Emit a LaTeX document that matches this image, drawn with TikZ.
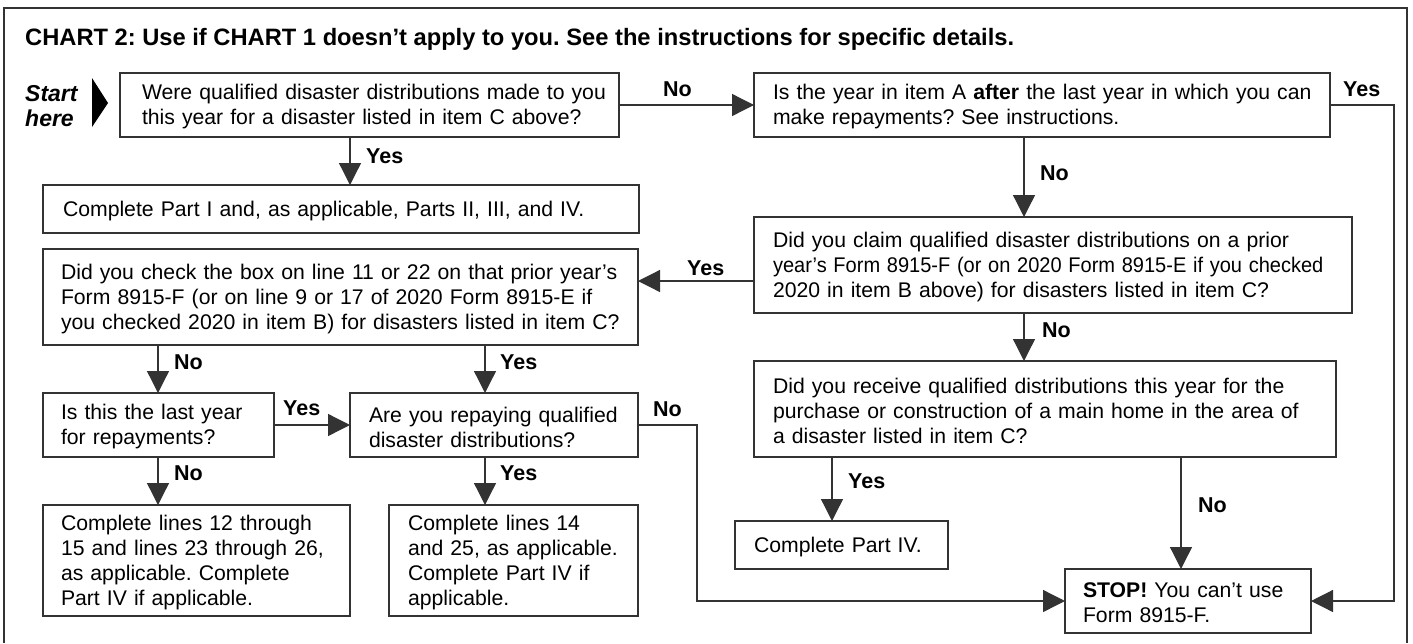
\documentclass[tikz,border=0pt]{standalone}
\usepackage{fontspec}
\usepackage{graphicx}
\setmainfont{Liberation Sans}
\usetikzlibrary{arrows.meta}
\definecolor{linec}{HTML}{333333}
\frenchspacing
\newcommand\bodyfont{\fontsize{21.2}{25}\selectfont}
\newcommand\lblfont{\fontsize{21.5}{25}\selectfont\bfseries}
\newcommand\titlefont{\fontsize{23.7}{27}\selectfont\bfseries}
\newcommand\startfont{\fontsize{23}{25}\selectfont\bfseries\itshape}
\newcommand\boxend{\endgraf\kern-4pt}
\begin{document}
\begin{tikzpicture}[x=1pt,y=-1pt,
  box/.style={draw=linec, line width=1.3pt, outer sep=0pt, anchor=north west,
    align=left, inner xsep=6pt, inner ysep=0pt, font=\bodyfont,
    execute at begin node={\frenchspacing\leftskip=13pt\rightskip=-30pt plus 1fil},
    execute at end node={\boxend}},
  bx/.style 2 args={box, text width={#1-12}, minimum height={#2}},
  ln/.style={draw=linec, line width=1.3pt},
  arr/.style={draw=linec, line width=1.3pt, -{Triangle[length=22pt,width=22pt]}},
  lbl/.style={anchor=west, inner sep=0pt, font=\lblfont}]
\useasboundingbox (0,0) rectangle (1413,643);
% frame
\draw[ln] (4,643) -- (4,8) -- (1407,8) -- (1407,643);
% title
\node[anchor=base west, inner sep=0pt, font=\titlefont] (title) at (25,45)
  {CHART 2: Use if CHART 1 doesn’t apply to you. See the instructions for specific details.};
% start
\node[anchor=west, align=left, inner sep=0pt, font=\startfont] (start) at (25,106) {Start\\here};
\fill[black] (92,78) -- (108,103) -- (92,127) -- cycle;
% boxes
\node[bx={499}{64}, execute at begin node={\leftskip=16pt}] (q1) at (120,73)
  {Were qualified disaster distributions made to you\\this year for a disaster listed in item C above?};
\node[bx={596}{48}, execute at begin node={\leftskip=14pt}] (p1) at (43,185)
  {Complete Part I and, as applicable, Parts II, III, and IV.};
\node[bx={576}{64}] (q2) at (754,73)
  {Is the year in item A \textbf{after} the last year in which you can\\make repayments? See instructions.};
\node[bx={598}{96}] (q3) at (754,217)
  {Did you claim qualified disaster distributions on a prior\\\scalebox{0.945}[1]{year’s Form 8915-F (or on 2020 Form 8915-E if you checked}\\2020 in item B above) for disasters listed in item C?};
\node[bx={595}{96}, execute at begin node={\leftskip=12pt}] (q4) at (43,249)
  {Did you check the box on line 11 or 22 on that prior year’s\\Form 8915-F (or on line 9 or 17 of 2020 Form 8915-E if\\you checked 2020 in item B) for disasters listed in item C?};
\node[bx={231}{64}, execute at begin node={\leftskip=12pt}] (q5) at (43,393)
  {Is this the last year\\for repayments?};
\node[bx={288}{64}] (q6) at (350,393)
  {Are you repaying qualified\\disaster distributions?};
\node[bx={307}{111}, execute at begin node={\leftskip=12pt}] (r1) at (43,505)
  {Complete lines 12 through\\15 and lines 23 through 26,\\as applicable. Complete\\Part IV if applicable.};
\node[bx={249}{111}] (r2) at (389,505)
  {Complete lines 14\\and 25, as applicable.\\Complete Part IV if\\applicable.};
\node[bx={582}{96}] (q7) at (754,361)
  {Did you receive qualified distributions this year for the\\purchase or construction of a main home in the area of\\a disaster listed in item C?};
\node[bx={213}{48}] (r3) at (735,521)
  {Complete Part IV.};
\node[bx={246}{64}, execute at begin node={\leftskip=12pt}] (stop) at (1065,569)
  {\textbf{STOP!} You can’t use\\Form 8915-F.};
% helper coordinates
\coordinate (x1) at (350,0);
\coordinate (x2) at (1024,0);
\coordinate (x4) at (158,0);
\coordinate (x5) at (485,0);
\coordinate (x6) at (832,0);
\coordinate (x7) at (1181,0);
\coordinate (cR) at (1394,300);
\coordinate (cN) at (697,500);
\coordinate (yq) at (0,281);
% connectors
\draw[arr] (q1.south -| x1) -- (p1.north -| x1);
\draw[arr] (q1.east) -- (q2.west);
\draw[arr] (q2.south -| x2) -- (q3.north -| x2);
\draw[arr] (q2.east) -| (cR) |- (stop.east);
\draw[arr] (q3.west |- yq) -- (q4.east |- yq);
\draw[arr] (q3.south -| x2) -- (q7.north -| x2);
\draw[arr] (q4.south -| x4) -- (q5.north -| x4);
\draw[arr] (q4.south -| x5) -- (q6.north -| x5);
\draw[arr] (q5.east) -- (q6.west);
\draw[arr] (q6.east) -| (cN) |- (stop.west);
\draw[arr] (q5.south -| x4) -- (r1.north -| x4);
\draw[arr] (q6.south -| x5) -- (r2.north -| x5);
\draw[arr] (q7.south -| x6) -- (r3.north -| x6);
\draw[arr] (q7.south -| x7) -- (stop.north -| x7);
% labels
\node[lbl] (l1) at (366,156) {Yes};
\node[lbl] (l2) at (663,89) {No};
\node[lbl] (l3) at (1040,173) {No};
\node[lbl] (l4) at (1343,89) {Yes};
\node[lbl] (l5) at (687,268) {Yes};
\node[lbl] (l6) at (1042,330) {No};
\node[lbl] (l7) at (174,362) {No};
\node[lbl] (l8) at (500,362) {Yes};
\node[lbl] (l9) at (283,408) {Yes};
\node[lbl] (l10) at (653,409) {No};
\node[lbl] (l11) at (174,473) {No};
\node[lbl] (l12) at (500,473) {Yes};
\node[lbl] (l13) at (848,481) {Yes};
\node[lbl] (l14) at (1198,505) {No};
\end{tikzpicture}
\end{document}
